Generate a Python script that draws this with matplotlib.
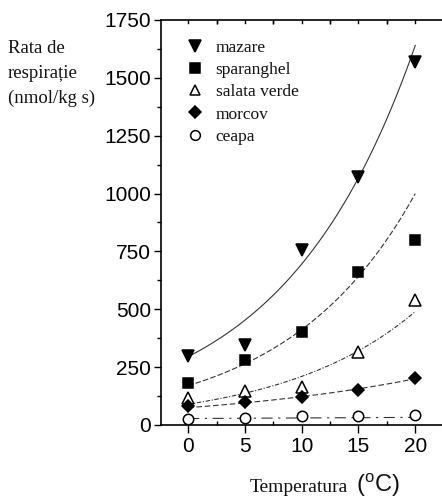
import matplotlib
matplotlib.use("Agg")
import matplotlib.pyplot as plt
import numpy as np
from matplotlib.lines import Line2D
from matplotlib.ticker import MultipleLocator

# temperature (C)
temp = [0, 5, 10, 15, 20]

# respiration rate (nmol/kg s)
mazare = [300, 345, 755, 1070, 1570]
sparanghel = [183, 280, 400, 660, 800]
salata_verde = [115, 145, 165, 315, 540]
morcov = [80, 100, 120, 150, 205]
ceapa = [25, 30, 40, 40, 45]

# fitted curves: value at 0 C and at 20 C
fit_start = [295, 170, 90, 75, 28]
fit_end = [1640, 1000, 490, 200, 33]

names = ["mazare", "sparanghel", "salata verde", "morcov", "ceapa"]
series = [mazare, sparanghel, salata_verde, morcov, ceapa]
markers = ["v", "s", "^", "D", "o"]
msizes = [9, 7.5, 8, 6.5, 7.5]
fills = [True, True, False, True, False]
styles = ["-", (0, (5, 2)), (0, (4, 1.5, 1, 1.5)), (0, (5, 2.5)), (0, (10, 5, 2, 5))]

serif = "Liberation Serif"
sans = "Liberation Sans"
ink = "#111111"

fig = plt.figure(figsize=(4.42, 5.0), dpi=100)
ax = fig.add_axes([0.364, 0.15, 0.641, 0.81])

xs = np.linspace(0, 20, 100)
for i in range(len(series)):
    b = np.log(fit_end[i] / fit_start[i]) / 20.0
    ax.plot(xs, fit_start[i] * np.exp(b * xs), color="#333333", lw=0.8,
            linestyle=styles[i], zorder=2)
    ax.plot(temp, series[i], linestyle="none", marker=markers[i], ms=msizes[i],
            mfc="black" if fills[i] else "white", mec="black", mew=1.1, zorder=3)

ax.set_xlim(-2.4, 22.55)
ax.set_ylim(0, 1750)
ax.xaxis.set_major_locator(MultipleLocator(5))
ax.xaxis.set_minor_locator(MultipleLocator(2.5))
ax.yaxis.set_major_locator(MultipleLocator(250))
ax.yaxis.set_minor_locator(MultipleLocator(125))

ax.tick_params(axis="y", which="both", direction="out", left=True, right=True,
               labelsize=15, pad=2, width=1)
ax.tick_params(axis="y", which="major", length=5)
ax.tick_params(axis="y", which="minor", length=3)
ax.tick_params(axis="x", which="major", direction="out", length=6, top=False,
               labelsize=15, pad=3, width=1)
ax.tick_params(axis="x", which="minor", direction="in", length=3, top=True, width=1)
for lab in ax.get_xticklabels() + ax.get_yticklabels():
    lab.set_fontfamily(sans)

# top ticks pointing in at every 2.5
for xt in np.arange(0, 22.6, 2.5):
    ax.plot([xt, xt], [1750, 1735], color="black", lw=1, clip_on=False)

for s in ax.spines.values():
    s.set_linewidth(1.2)

handles = []
for i in range(len(names)):
    handles.append(Line2D([], [], linestyle="none", marker=markers[i], ms=msizes[i] - 0.5,
                          mfc="black" if fills[i] else "white", mec="black", mew=1.1))
leg = ax.legend(handles, names, loc="upper left", bbox_to_anchor=(0.04, 0.99),
                frameon=False, handlelength=0.8, handletextpad=0.8, labelspacing=0.35,
                prop={"family": serif, "size": 12.5})
for t in leg.get_texts():
    t.set_color(ink)

fig.text(0.018, 0.92, "Rata de\nrespirație\n(nmol/kg s)", family=serif, size=13.5,
         color=ink, va="top", ha="left", linespacing=1.6)

fig.text(0.565, 0.016, "Temperatura", family=serif, size=14, color=ink,
         ha="left", va="baseline")
fig.text(0.805, 0.016, "($^{\\mathregular{o}}$C)", family=sans, size=17, color=ink,
         ha="left", va="baseline")

fig.savefig("out.png", dpi=100)
